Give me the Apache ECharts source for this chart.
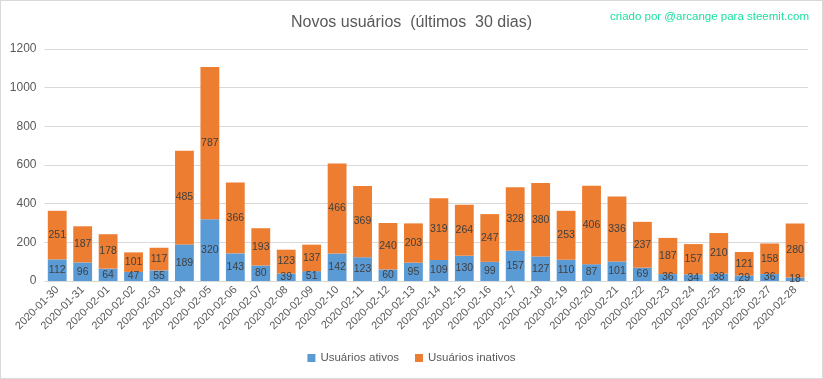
<!DOCTYPE html>
<html><head><meta charset="utf-8">
<script src="https://cdn.jsdelivr.net/npm/echarts@6/dist/echarts.min.js"></script>
<style>html,body{margin:0;padding:0;background:#fff}#c{width:823px;height:379px;box-sizing:border-box;border:1px solid #d9d9d9}</style>
</head><body><div id="c"></div>
<script>
const categories = ["2020-01-30","2020-01-31","2020-02-01","2020-02-02","2020-02-03","2020-02-04","2020-02-05","2020-02-06","2020-02-07","2020-02-08","2020-02-09","2020-02-10","2020-02-11","2020-02-12","2020-02-13","2020-02-14","2020-02-15","2020-02-16","2020-02-17","2020-02-18","2020-02-19","2020-02-20","2020-02-21","2020-02-22","2020-02-23","2020-02-24","2020-02-25","2020-02-26","2020-02-27","2020-02-28"];
const ativos = [112,96,64,47,55,189,320,143,80,39,51,142,123,60,95,109,130,99,157,127,110,87,101,69,36,34,38,29,36,18];
const inativos = [251,187,178,101,117,485,787,366,193,123,137,466,369,240,203,319,264,247,328,380,253,406,336,237,187,157,210,121,158,280];
const yTicks = [0,200,400,600,800,1000,1200];

const FONT = "Liberation Sans";
const chart = echarts.init(document.getElementById('c'), null, {renderer:'canvas'});
const lbl = {show:true, position:'inside', color:'#404040', fontSize:10.5, fontFamily:FONT};
chart.setOption({
  animation:false,
  textStyle:{fontFamily:FONT},
  title:[
    {text:'Novos usuários  (últimos  30 dias)', left:'center', top:9, textStyle:{fontSize:16, fontWeight:'normal', color:'#595959', fontFamily:FONT}},
    {text:'criado por @arcange para steemit.com', right:8, top:5, textStyle:{fontSize:11.5, fontWeight:'normal', color:'#1de0a0', fontFamily:FONT}}
  ],
  legend:{bottom:9, left:'center', itemWidth:8, itemHeight:8, itemGap:16, icon:'rect',
    textStyle:{color:'#595959', fontSize:11.5, fontFamily:FONT}, data:['Usuários ativos','Usuários inativos']},
  grid:{left:43.5, right:14.2, top:48, bottom:97},
  xAxis:{type:'category', data:categories,
    axisLine:{lineStyle:{color:'#d9d9d9'}}, axisTick:{show:false},
    axisLabel:{rotate:45, color:'#595959', fontSize:11, margin:7, interval:0}},
  yAxis:{type:'value', min:yTicks[0], max:yTicks[yTicks.length-1], interval:200,
    axisLine:{show:false}, axisTick:{show:false},
    splitLine:{lineStyle:{color:'#d9d9d9'}},
    axisLabel:{color:'#595959', fontSize:12, margin:8, formatter:v=>String(v)}},
  series:[
    {name:'Usuários ativos', type:'bar', stack:'t', data:ativos, barCategoryGap:'26%', itemStyle:{color:'#5b9bd5'}, label:lbl},
    {name:'Usuários inativos', type:'bar', stack:'t', data:inativos, barCategoryGap:'26%', itemStyle:{color:'#ed7d31'}, label:lbl}
  ]
});
</script></body></html>
